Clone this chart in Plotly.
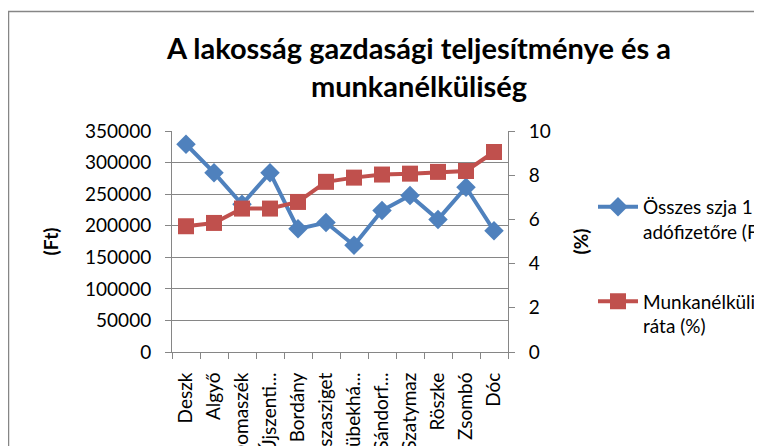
import plotly.graph_objects as go

categories = ["Deszk", "Algyő", "Domaszék", "Újszenti...", "Bordány", "Tiszasziget",
              "Kübekhá...", "Sándorf...", "Szatymaz", "Röszke", "Zsombó", "Dóc"]
szja_per_payer = [329000, 284000, 234000, 284000, 195000, 205000,
                  169000, 224000, 248000, 210000, 261000, 192000]
unemployment_rate = [5.69, 5.84, 6.49, 6.49, 6.79, 7.70, 7.89, 8.03, 8.07, 8.15, 8.19, 9.05]

left_ticks = [0, 50000, 100000, 150000, 200000, 250000, 300000, 350000]
right_ticks = [0, 2, 4, 6, 8, 10]

BLUE = "#4F81BD"
RED = "#C0504D"
GRID = "#868686"
FONT = "Lato"

# page body has an 8px margin; work in window pixels and convert
OFF = 8
WIN_W, WIN_H = 762, 446
W, H = WIN_W - OFF, WIN_H - OFF
PLOT_L, PLOT_R, PLOT_T, PLOT_B = 172, 508, 131, 352  # window pixels
ML, MR, MT, MB = PLOT_L - OFF, (OFF + W) - PLOT_R, PLOT_T - OFF, (OFF + H) - PLOT_B
PW, PH = PLOT_R - PLOT_L, PLOT_B - PLOT_T

def px_x(p):
    return (p - PLOT_L) / PW

def px_y(p):
    return (PLOT_B - p) / PH

fig = go.Figure()
fig.add_trace(go.Scatter(
    x=categories, y=szja_per_payer, name="Összes szja 1<br>adófizetőre (Ft)",
    mode="lines+markers", legendgroup="a",
    line=dict(color=BLUE, width=4),
    marker=dict(symbol="diamond", size=15, color=BLUE),
))
fig.add_trace(go.Scatter(
    x=categories, y=unemployment_rate, name="Munkanélküliségi<br>ráta (%)",
    mode="lines+markers", yaxis="y2", legendgroup="b",
    line=dict(color=RED, width=4),
    marker=dict(symbol="square", size=16, color=RED),
))

fig.update_layout(
    width=W, height=H,
    margin=dict(l=ML, r=MR, t=MT, b=MB, autoexpand=False),
    paper_bgcolor="white", plot_bgcolor="white",
    font=dict(family=FONT, size=19, color="black"),
    title=dict(
        text="<b>A lakosság gazdasági teljesítménye és a<br>munkanélküliség</b>",
        x=px_x(419), xanchor="center", xref="paper",
        y=1 - (59 - OFF) / H, yanchor="top", yref="container",
        font=dict(family=FONT, size=29, color="black"),
    ),
    xaxis=dict(
        type="category", range=[-0.5, len(categories) - 0.5],
        showline=True, linecolor=GRID, linewidth=1,
        ticks="outside", tickson="boundaries", ticklen=6, tickcolor=GRID,
        tickangle=-90, showgrid=False, automargin=False, ticklabelstandoff=12,
        tickfont=dict(size=19),
    ),
    yaxis=dict(
        range=[0, 350000], tickvals=left_ticks, ticktext=[str(v) for v in left_ticks],
        showline=True, linecolor=GRID, linewidth=1,
        ticks="outside", ticklen=6, tickcolor=GRID,
        showgrid=True, gridcolor=GRID, gridwidth=1,
        zeroline=False, automargin=False, ticklabelstandoff=10,
        title=dict(text="<b>(Ft)</b>", standoff=21, font=dict(size=19)),
    ),
    yaxis2=dict(
        range=[0, 10], tickvals=right_ticks,
        overlaying="y", side="right",
        showline=True, linecolor=GRID, linewidth=1,
        ticks="outside", ticklen=6, tickcolor=GRID,
        showgrid=False, zeroline=False, automargin=False, ticklabelstandoff=10,
        title=dict(text="<b>(%)</b>", standoff=24, font=dict(size=19)),
    ),
    legend=dict(
        x=px_x(593), xanchor="left", y=px_y(188), yanchor="top",
        font=dict(size=19), valign="top", tracegroupgap=42,
        bgcolor="rgba(0,0,0,0)", itemwidth=40,
    ),
    shapes=[dict(
        type="rect", xref="paper", yref="paper",
        x0=px_x(8.5), y0=px_y(11.5), x1=px_x(WIN_W + 20), y1=px_y(WIN_H + 20),
        line=dict(color=GRID, width=1.5), fillcolor="rgba(0,0,0,0)", layer="above",
    )],
)

fig.write_html("out.html", config={"displayModeBar": False})
